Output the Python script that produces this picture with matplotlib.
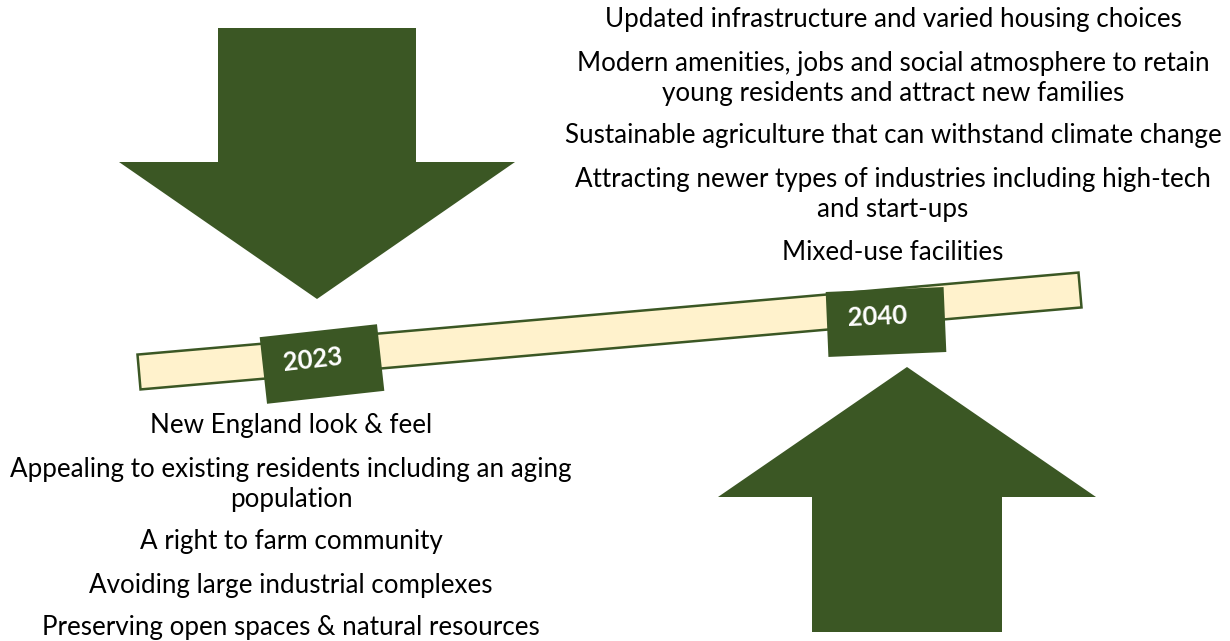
import numpy as np
import matplotlib.pyplot as plt
from matplotlib.patches import Polygon

# Contenu du schéma
future_items = [
    "Updated infrastructure and varied housing choices",
    "Modern amenities, jobs and social atmosphere to retain\nyoung residents and attract new families",
    "Sustainable agriculture that can withstand climate change",
    "Attracting newer types of industries including high-tech\nand start-ups",
    "Mixed-use facilities",
]
present_items = [
    "New England look & feel",
    "Appealing to existing residents including an aging\npopulation",
    "A right to farm community",
    "Avoiding large industrial complexes",
    "Preserving open spaces & natural resources",
]
years = ["2023", "2040"]

GREEN = "#3B5724"
CREAM = "#FFF2CC"
FONT = "Lato"


def rect_corners(cx, cy, w, h, angle_deg):
    # angle positif = monte vers la droite (axe y inversé)
    a = np.deg2rad(angle_deg)
    u = np.array([np.cos(a), -np.sin(a)])
    n = np.array([np.sin(a), np.cos(a)])
    c = np.array([cx, cy])
    return [c - u * w / 2 - n * h / 2, c + u * w / 2 - n * h / 2,
            c + u * w / 2 + n * h / 2, c - u * w / 2 + n * h / 2]


def draw_block(ax, items, x, y0, size):
    y = y0
    for item in items:
        for j, line in enumerate(item.split("\n")):
            if j > 0:
                y += 30
            ax.text(x, y, line, ha="center", va="center", fontsize=size,
                    family=FONT, color="black")
        y += 43


fig = plt.figure(figsize=(12.3, 6.41), dpi=100)
ax = fig.add_axes([0, 0, 1, 1])
ax.set_xlim(0, 1230)
ax.set_ylim(641, 0)
ax.axis("off")

# Flèche vers le bas
down = [(218, 28), (416, 28), (416, 162), (515, 162), (317, 299),
        (119, 162), (218, 162)]
ax.add_patch(Polygon(down, closed=True, facecolor=GREEN, edgecolor="none"))

# Flèche vers le haut
up = [(907, 367), (1096, 497), (1002, 497), (1002, 632), (812, 632),
      (812, 497), (718, 497)]
ax.add_patch(Polygon(up, closed=True, facecolor=GREEN, edgecolor="none"))

# Barre de la ligne du temps
p0 = np.array([139, 372])
p1 = np.array([1080, 290])
length = np.hypot(*(p1 - p0))
ang = np.degrees(np.arctan2(p0[1] - p1[1], p1[0] - p0[0]))
mid = (p0 + p1) / 2
ax.add_patch(Polygon(rect_corners(mid[0], mid[1], length, 35, ang), closed=True,
                     facecolor=CREAM, edgecolor=GREEN, linewidth=1.8))

# Cases des années
boxes = [(322, 364, 118, 67, 6.3, 313, 360), (886, 322, 118, 65, 2.4, 877, 317)]
for year, (cx, cy, w, h, a, tx, ty) in zip(years, boxes):
    ax.add_patch(Polygon(rect_corners(cx, cy, w, h, a), closed=True,
                         facecolor=GREEN, edgecolor="none"))
    ax.text(tx, ty, year, ha="center", va="center", rotation=a,
            rotation_mode="anchor", fontsize=18.5, fontweight="bold",
            family=FONT, color="white")

draw_block(ax, future_items, 893, 20, 18.7)
draw_block(ax, present_items, 291, 426, 18.7)

fig.savefig("out.png", dpi=100)
